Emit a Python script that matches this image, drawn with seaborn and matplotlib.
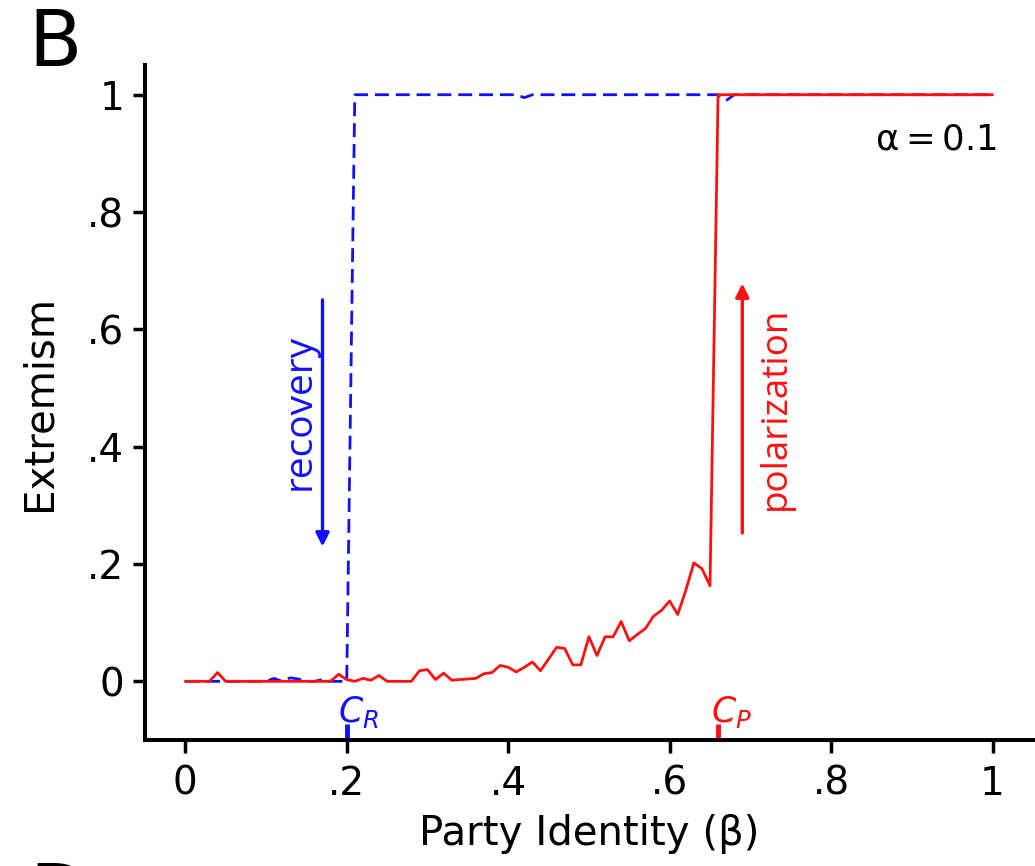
import numpy as np
import pandas as pd
import seaborn as sns
import matplotlib.pyplot as plt

# party identity grid (beta), step 0.01
beta = np.round(np.arange(0, 101) / 100, 2)

# extremism while increasing beta (polarization branch)
extremism_up = [
    0.0, 0.0, 0.0, 0.0, 0.015, 0.0, 0.0, 0.0, 0.0, 0.0,
    0.0, 0.0, 0.0, 0.0, 0.0, 0.0, 0.0, 0.0, 0.0, 0.012,
    0.003, 0.0, 0.005, 0.002, 0.010, 0.0, 0.0, 0.0, 0.0, 0.018,
    0.020, 0.003, 0.014, 0.002, 0.003, 0.004, 0.005, 0.013, 0.015, 0.027,
    0.024, 0.016, 0.024, 0.033, 0.018, 0.038, 0.058, 0.056, 0.028, 0.028,
    0.076, 0.044, 0.076, 0.076, 0.102, 0.069, 0.080, 0.090, 0.111, 0.121,
    0.137, 0.114, 0.155, 0.202, 0.192, 0.163, 1.0, 1.0, 1.0, 1.0,
    1.0, 1.0, 1.0, 1.0, 1.0, 1.0, 1.0, 1.0, 1.0, 1.0,
    1.0, 1.0, 1.0, 1.0, 1.0, 1.0, 1.0, 1.0, 1.0, 1.0,
    1.0, 1.0, 1.0, 1.0, 1.0, 1.0, 1.0, 1.0, 1.0, 1.0,
    1.0,
]

# extremism while decreasing beta (recovery branch)
extremism_down = [
    0.0, 0.0, 0.0, 0.0, 0.0, 0.0, 0.0, 0.0, 0.0, 0.0,
    0.0, 0.005, 0.0, 0.006, 0.004, 0.0, 0.0, 0.003, 0.0, 0.0,
    0.0, 1.0, 1.0, 1.0, 1.0, 1.0, 1.0, 1.0, 1.0, 1.0,
    1.0, 1.0, 1.0, 1.0, 1.0, 1.0, 1.0, 1.0, 1.0, 1.0,
    1.0, 1.0, 0.995, 1.0, 1.0, 1.0, 1.0, 1.0, 1.0, 1.0,
    1.0, 1.0, 1.0, 1.0, 1.0, 1.0, 1.0, 1.0, 1.0, 1.0,
    1.0, 1.0, 1.0, 1.0, 1.0, 1.0, 1.0, 0.99, 1.0, 1.0,
    1.0, 1.0, 1.0, 1.0, 1.0, 1.0, 1.0, 1.0, 1.0, 1.0,
    1.0, 1.0, 1.0, 1.0, 1.0, 1.0, 1.0, 1.0, 1.0, 1.0,
    1.0, 1.0, 1.0, 1.0, 1.0, 1.0, 1.0, 1.0, 1.0, 1.0,
    1.0,
]

c_r = 0.20
c_p = 0.66
tick_vals = [0, 0.2, 0.4, 0.6, 0.8, 1.0]
tick_labels = ['0', '.2', '.4', '.6', '.8', '1']

df = pd.DataFrame({'beta': beta, 'up': extremism_up, 'down': extremism_down})

blue = '#1010ff'
red = '#ff1010'

sns.set_style('ticks', {'axes.edgecolor': 'black', 'text.color': 'black',
                        'axes.labelcolor': 'black', 'xtick.color': 'black',
                        'ytick.color': 'black'})
plt.rcParams['font.family'] = ['DejaVu Sans']
plt.rcParams['mathtext.fontset'] = 'dejavusans'

fig = plt.figure(figsize=(10.35, 8.66), dpi=100)
ax = fig.add_axes([0.140, 0.1455, 0.858, 0.779])

sns.lineplot(data=df, x='beta', y='down', ax=ax, color=blue, lw=2.0,
             linestyle=(0, (5, 2.5)))
sns.lineplot(data=df, x='beta', y='up', ax=ax, color=red, lw=2.0)

ax.set_xlim(-0.05, 1.05)
ax.set_ylim(-0.1, 1.05)
ax.set_xticks(tick_vals)
ax.set_xticklabels(tick_labels)
ax.set_yticks(tick_vals)
ax.set_yticklabels(tick_labels)
ax.tick_params(labelsize=28, length=9, width=2.5, colors='black', pad=6)
ax.tick_params(axis='x', pad=9)
ax.set_xlabel('Party Identity (β)', fontsize=29, labelpad=8)
ax.set_ylabel('Extremism', fontsize=29, labelpad=20)
sns.despine(ax=ax)
for s in ['left', 'bottom']:
    ax.spines[s].set_linewidth(2.9)

# critical points markers
ax.plot([c_r, c_r], [-0.1, -0.072], color=blue, lw=3.5, clip_on=False,
        solid_capstyle='butt')
ax.plot([c_p, c_p], [-0.1, -0.072], color=red, lw=3.5, clip_on=False,
        solid_capstyle='butt')
ax.text(c_r + 0.015, -0.052, '$C_R$', color=blue, fontsize=25,
        ha='center', va='center')
ax.text(c_p + 0.017, -0.052, '$C_P$', color=red, fontsize=25,
        ha='center', va='center')

# arrows and annotations
ax.annotate('', xy=(0.17, 0.225), xytext=(0.17, 0.655),
            arrowprops=dict(arrowstyle='-|>', color=blue, lw=2.4,
                            mutation_scale=20))
ax.text(0.142, 0.46, 'recovery', color=blue, fontsize=28,
        family='Open Sans', rotation=90, ha='center', va='center')
ax.annotate('', xy=(0.69, 0.683), xytext=(0.69, 0.248),
            arrowprops=dict(arrowstyle='-|>', color=red, lw=2.4,
                            mutation_scale=20))
ax.text(0.732, 0.465, 'polarization', color=red, fontsize=26.5,
        family='Open Sans', rotation=90, ha='center', va='center')

ax.text(1.005, 0.923, r'$\mathregular{\alpha=0.1}$', fontsize=25.5,
        ha='right', va='center')

fig.text(0.027, 0.949, 'B', fontsize=56, ha='left', va='center')
fig.text(0.028, 0.007, 'D', fontsize=56, ha='left', va='top')

fig.savefig('out.png', dpi=100)
